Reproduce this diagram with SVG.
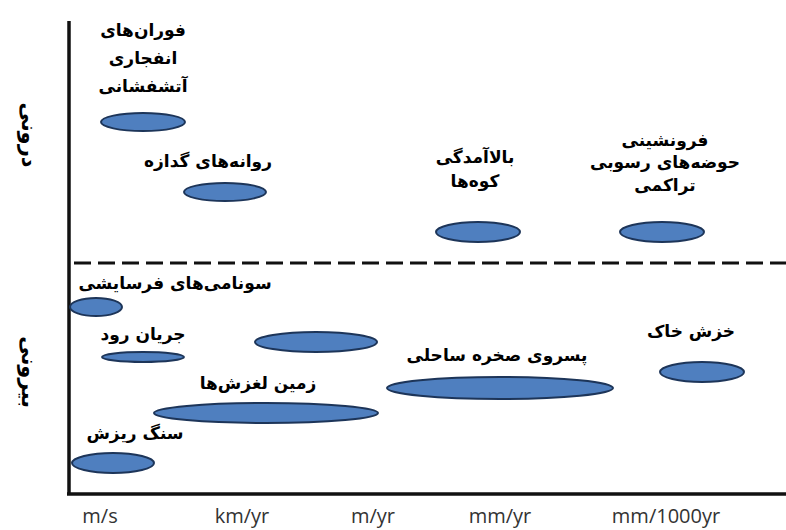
<svg xmlns="http://www.w3.org/2000/svg" width="786" height="530" viewBox="0 0 786 530">
<style>
.e{fill:#4f7fbf;stroke:#1d3559;stroke-width:2}
.t{font-family:"DejaVu Sans",sans-serif;font-weight:bold;font-size:17px;fill:#000;text-anchor:middle}
.s{font-family:"DejaVu Sans",sans-serif;font-weight:bold;font-size:21px;fill:#000;text-anchor:middle}
.a{font-family:"Open Sans",sans-serif;font-size:20px;fill:#333;text-anchor:middle}
.ax{stroke:#111;stroke-width:3.5;fill:none}
</style>
<rect width="786" height="530" fill="#fff"/>
<g id="axes">
<line class="ax" x1="69" y1="21" x2="69" y2="495"/>
<line class="ax" x1="67" y1="494" x2="786" y2="494"/>
<line x1="74" y1="263" x2="786" y2="263" stroke="#111" stroke-width="3" stroke-dasharray="17 7"/>
<text class="a" x="100" y="523">m/s</text>
<text class="a" x="242" y="523">km/yr</text>
<text class="a" x="373" y="523">m/yr</text>
<text class="a" x="500" y="523">mm/yr</text>
<text class="a" x="666" y="523">mm/1000yr</text>
<text class="s" transform="translate(22,135) rotate(90)" direction="rtl">درونی</text>
<text class="s" transform="translate(22,372) rotate(90)" direction="rtl">بیرونی</text>
</g>
<g id="volcanic">
<ellipse class="e" cx="143" cy="122" rx="42" ry="9"/>
<text class="t" direction="rtl"><tspan x="143" y="36">فوران‌های</tspan><tspan x="143" y="64">انفجاری</tspan><tspan x="143" y="92">آتشفشانی</tspan></text>
</g>
<g id="lava">
<ellipse class="e" cx="225" cy="192" rx="41" ry="9"/>
<text class="t" x="208" y="167" direction="rtl">روانه‌های گدازه</text>
</g>
<g id="uplift">
<ellipse class="e" cx="478" cy="232" rx="42" ry="10"/>
<text class="t" direction="rtl"><tspan x="475" y="163">بالاآمدگی</tspan><tspan x="475" y="187">کوه‌ها</tspan></text>
</g>
<g id="subsidence">
<ellipse class="e" cx="662" cy="232" rx="42" ry="10"/>
<text class="t" direction="rtl"><tspan x="665" y="146">فرونشینی</tspan><tspan x="665" y="168">حوضه‌های رسوبی</tspan><tspan x="665" y="191">تراکمی</tspan></text>
</g>
<g id="tsunami">
<ellipse class="e" cx="96" cy="307" rx="26" ry="9"/>
<text class="t" x="175" y="289" direction="rtl">سونامی‌های فرسایشی</text>
</g>
<g id="river">
<ellipse class="e" cx="143" cy="357" rx="41" ry="5"/>
<text class="t" x="143" y="340" direction="rtl">جریان رود</text>
</g>
<g id="unlabeled">
<ellipse class="e" cx="316" cy="342" rx="61" ry="10"/>
</g>
<g id="landslides">
<ellipse class="e" cx="266" cy="413" rx="112" ry="10"/>
<text class="t" x="258" y="389" direction="rtl">زمین لغزش‌ها</text>
</g>
<g id="rockfall">
<ellipse class="e" cx="113" cy="463" rx="41" ry="10"/>
<text class="t" x="135" y="439" direction="rtl">سنگ ریزش</text>
</g>
<g id="cliff">
<ellipse class="e" cx="500" cy="388" rx="113" ry="11"/>
<text class="t" x="497" y="361" direction="rtl">پسروی صخره ساحلی</text>
</g>
<g id="creep">
<ellipse class="e" cx="702" cy="372" rx="42" ry="10"/>
<text class="t" x="691" y="337" direction="rtl">خزش خاک</text>
</g>
<g id="connectors"></g>
</svg>
